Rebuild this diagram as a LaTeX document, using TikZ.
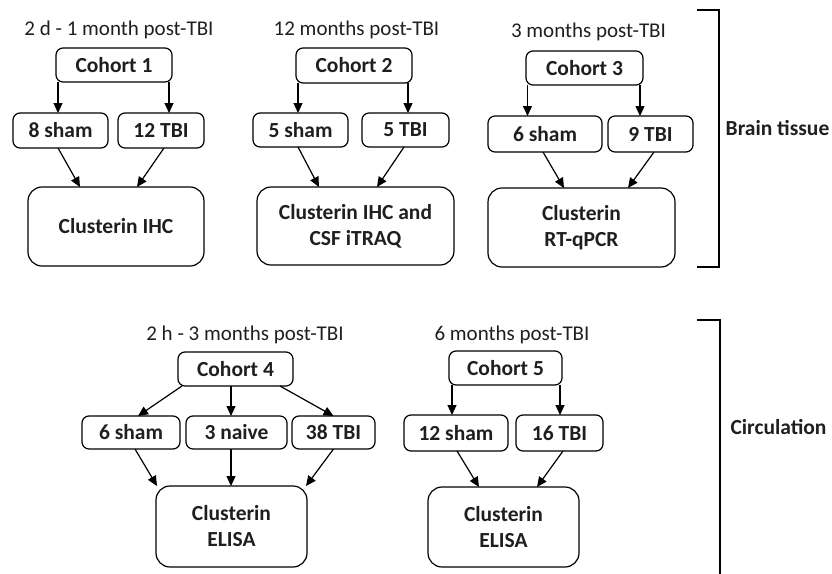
\documentclass[tikz,border=0pt]{standalone}
\usepackage{fontspec}
\setmainfont{Carlito}
\usetikzlibrary{arrows.meta}
\begin{document}
\begin{tikzpicture}[x=1pt,y=-1pt,
  every node/.style={inner sep=0pt,outer sep=0pt,text=black!88},
  sbox/.style={draw,line width=1.2pt,rounded corners=7pt,font=\fontsize{21.5}{25}\selectfont\bfseries,align=center},
  bbox/.style={draw,line width=1.2pt,rounded corners=14pt,font=\fontsize{21.5}{26}\selectfont\bfseries,align=center},
  ttl/.style={font=\fontsize{21}{25}\selectfont},
  side/.style={font=\fontsize{21.5}{25}\selectfont\bfseries},
  arr/.style={line width=1.2pt,-{Triangle[length=10pt,width=9pt]}},
  brk/.style={line width=1.2pt}]
\useasboundingbox (0,0) rectangle (832,573);
% ---- cohort 1
\node[ttl] (T1) at (119,30) {2 d - 1 month post-TBI};
\node[sbox,minimum width=116pt,minimum height=34pt] (c1) at (114,65) {Cohort 1};
\node[sbox,minimum width=95pt,minimum height=35pt] (s1) at (60.5,130.5) {8 sham};
\node[sbox,minimum width=86pt,minimum height=35pt] (t1) at (161,130.5) {12 TBI};
\node[bbox,minimum width=176pt,minimum height=79pt] (r1) at (116,226.5) {Clusterin IHC};
% ---- cohort 2
\node[ttl] (T2) at (356.5,30) {12 months post-TBI};
\node[sbox,minimum width=116pt,minimum height=35pt] (c2) at (354,65.5) {Cohort 2};
\node[sbox,minimum width=95pt,minimum height=34pt] (s2) at (300.5,130) {5 sham};
\node[sbox,minimum width=87pt,minimum height=34pt] (t2) at (405.5,130) {5 TBI};
\node[bbox,minimum width=197pt,minimum height=78pt] (r2) at (355.5,226) {Clusterin IHC and\\CSF iTRAQ};
% ---- cohort 3
\node[ttl] (T3) at (588.5,32) {3 months post-TBI};
\node[sbox,minimum width=117pt,minimum height=34pt] (c3) at (584.5,68) {Cohort 3};
\node[sbox,minimum width=114pt,minimum height=36pt] (s3) at (545,134) {6 sham};
\node[sbox,minimum width=85pt,minimum height=36pt] (t3) at (650.5,134) {9 TBI};
\node[bbox,minimum width=187pt,minimum height=79pt] (r3) at (581.5,227.5) {Clusterin\\RT-qPCR};
% ---- cohort 4
\node[ttl] (T4) at (245,335) {2 h - 3 months post-TBI};
\node[sbox,minimum width=115pt,minimum height=34pt] (c4) at (235.5,369) {Cohort 4};
\node[sbox,minimum width=98pt,minimum height=33pt] (s4) at (131,432.5) {6 sham};
\node[sbox,minimum width=101pt,minimum height=33pt] (n4) at (236.5,432.5) {3 naive};
\node[sbox,minimum width=83pt,minimum height=33pt] (t4) at (333.5,432.5) {38 TBI};
\node[bbox,minimum width=151pt,minimum height=81pt] (r4) at (231.5,526.5) {Clusterin\\ELISA};
% ---- cohort 5
\node[ttl] (T5) at (512,335) {6 months post-TBI};
\node[sbox,minimum width=113pt,minimum height=34pt] (c5) at (505.5,368) {Cohort 5};
\node[sbox,minimum width=104pt,minimum height=36pt] (s5) at (456,433) {12 sham};
\node[sbox,minimum width=87pt,minimum height=36pt] (t5) at (559.5,433) {16 TBI};
\node[bbox,minimum width=151pt,minimum height=80pt] (r5) at (503.5,527) {Clusterin\\ELISA};
% ---- side labels
\node[side] (L1) at (777.5,128) {Brain tissue};
\node[side] (L2) at (778.5,427) {Circulation};
% ---- brackets
\coordinate (b1a) at (697,10);
\coordinate (b1b) at (719,10);
\coordinate (b1c) at (719,267);
\coordinate (b1d) at (697,267);
\draw[brk] (b1a) -- (b1b) -- (b1c) -- (b1d);
\coordinate (b2a) at (697,320);
\coordinate (b2b) at (720,320);
\coordinate (b2c) at (720,575);
\draw[brk] (b2a) -- (b2b) -- (b2c);
% ---- arrows cohort -> groups
\draw[arr] ([xshift=2pt]c1.south west) -- ([xshift=2pt]c1.south west |- s1.north);
\draw[arr] ([xshift=-3pt]c1.south east) -- ([xshift=-3pt]c1.south east |- t1.north);
\draw[arr] ([xshift=2pt]c2.south west) -- ([xshift=2pt]c2.south west |- s2.north);
\draw[arr] ([xshift=-4pt]c2.south east) -- ([xshift=-4pt]c2.south east |- t2.north);
\draw[arr] ([xshift=1.5pt]c3.south west) -- ([xshift=1.5pt]c3.south west |- s3.north);
\draw[arr] ([xshift=-3pt]c3.south east) -- ([xshift=-3pt]c3.south east |- t3.north);
\draw[arr] ([xshift=3pt]c5.south west) -- ([xshift=3pt]c5.south west |- s5.north);
\draw[arr] ([xshift=-2pt]c5.south east) -- ([xshift=-2pt]c5.south east |- t5.north);
\draw[arr] ([xshift=4pt]c4.south west) -- ([xshift=7pt]s4.north);
\draw[arr] ([xshift=-4.5pt]c4.south) -- ([xshift=-5.5pt]n4.north);
\draw[arr] ([xshift=-13pt]c4.south east) -- (t4.north);
% ---- arrows groups -> results
\draw[arr] ([xshift=-2.5pt]s1.south) -- ([xshift=-36pt]r1.north);
\draw[arr] ([xshift=3pt]t1.south) -- ([xshift=21pt]r1.north);
\draw[arr] ([xshift=-2.5pt]s2.south) -- ([xshift=-36.5pt]r2.north);
\draw[arr] ([xshift=-1.5pt]t2.south) -- ([xshift=21.5pt]r2.north);
\draw[arr] ([xshift=-2pt]s3.south) -- ([xshift=-17.5pt]r3.north);
\draw[arr] ([xshift=3.5pt]t3.south) -- ([xshift=46.5pt]r3.north);
\draw[arr] ([xshift=4pt]s4.south) -- ([xshift=-74.5pt]r4.north);
\draw[arr] ([xshift=-5.5pt]n4.south) -- ([xshift=-0.5pt]r4.north);
\draw[arr] (t4.south) -- ([xshift=74.5pt]r4.north);
\draw[arr] ([xshift=1pt]s5.south) -- ([xshift=-24.5pt]r5.north);
\draw[arr] ([xshift=3.5pt]t5.south) -- ([xshift=33.5pt]r5.north);
\end{tikzpicture}
\end{document}
